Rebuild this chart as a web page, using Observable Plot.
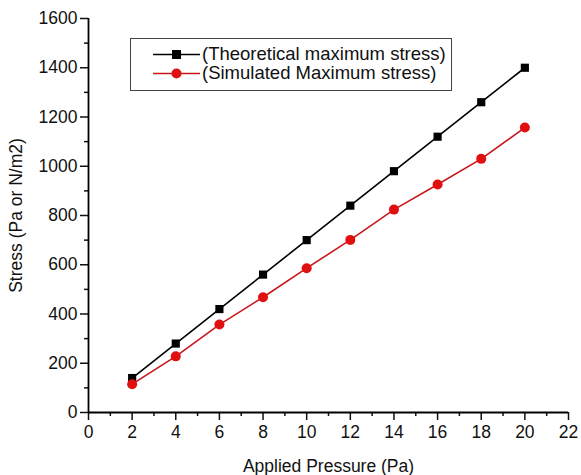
<!DOCTYPE html>
<html>
<head>
<meta charset="utf-8">
<script src="https://cdn.jsdelivr.net/npm/d3@7"></script>
<script src="https://cdn.jsdelivr.net/npm/@observablehq/plot@0.6"></script>
<style>
  body { margin: 0; background: #fff; }
  #wrap { position: relative; width: 581px; height: 475px; font-family: "Liberation Sans", Arial, sans-serif; }
  #legend { position: absolute; left: 130px; top: 38px; width: 322px; height: 53px; border: 1px solid #444; box-sizing: border-box; background: #fff; }
  .row { position: absolute; left: 22px; height: 20px; display: flex; align-items: center; font-size: 18.5px; color: #111; white-space: nowrap; }
  .row svg { margin-right: 2px; }
</style>
</head>
<body>
<div id="wrap"></div>
<script>
const pressure = [2, 4, 6, 8, 10, 12, 14, 16, 18, 20];
const theoretical = [140, 280, 420, 560, 700, 840, 980, 1120, 1260, 1400];
const simulated = [115, 228, 357, 468, 586, 701, 824, 926, 1030, 1157];
const seriesNames = ["(Theoretical maximum stress)", "(Simulated Maximum stress)"];
const xTicks = d3.range(0, 23, 2);
const xMinor = d3.range(1, 22, 2);
const yTicks = d3.range(0, 1601, 200);
const yMinor = d3.range(100, 1600, 200);

const theo = pressure.map((x, i) => ({x, y: theoretical[i]}));
const sim = pressure.map((x, i) => ({x, y: simulated[i]}));

const blackC = "#000";
const redLine = "#c8161b";
const redDot = "#e01010";

const chart = Plot.plot({
  width: 581,
  height: 475,
  marginLeft: 88,
  marginRight: 13,
  marginTop: 18,
  marginBottom: 63,
  style: {fontFamily: "Liberation Sans, Arial, sans-serif", color: "#111", background: "#fff"},
  x: {domain: [0, 22]},
  y: {domain: [0, 1600]},
  marks: [
    Plot.axisX({ticks: xTicks, tickFormat: d => String(d), tickSize: 8, tickPadding: 5, fontSize: 17.5, strokeWidth: 1.5, label: "Applied Pressure (Pa)", labelAnchor: "center", labelArrow: "none", labelOffset: 59}),
    Plot.axisX({ticks: xMinor, tickSize: 4, text: null, strokeWidth: 1.5, label: null}),
    Plot.axisY({ticks: yTicks, tickFormat: d => String(d), tickSize: 8, tickPadding: 3, fontSize: 17.5, strokeWidth: 1.5, label: "Stress (Pa or N/m2)", labelAnchor: "center", labelArrow: "none", labelOffset: 79}),
    Plot.axisY({ticks: yMinor, tickSize: 4, text: null, strokeWidth: 1.5, label: null}),
    Plot.ruleY([0], {stroke: "#000", strokeWidth: 1.8}),
    Plot.ruleX([0], {stroke: "#000", strokeWidth: 1.8}),
    Plot.line(theo, {x: "x", y: "y", stroke: blackC, strokeWidth: 1.6}),
    Plot.dot(theo, {x: "x", y: "y", symbol: "square", r: 4.6, fill: blackC, stroke: "none"}),
    Plot.line(sim, {x: "x", y: "y", stroke: redLine, strokeWidth: 1.6}),
    Plot.dot(sim, {x: "x", y: "y", symbol: "circle", r: 5, fill: redDot, stroke: "none"})
  ]
});
const wrap = document.getElementById("wrap");
wrap.appendChild(chart);

const legend = document.createElement("div");
legend.id = "legend";
const rows = [
  {name: seriesNames[0], line: blackC, fill: blackC, sym: "square", top: 5},
  {name: seriesNames[1], line: redLine, fill: redDot, sym: "circle", top: 24}
];
rows.forEach(r => {
  const d = document.createElement("div");
  d.className = "row";
  d.style.top = r.top + "px";
  const mk = r.sym === "square"
    ? `<rect x="19" y="6" width="9" height="9" fill="${r.fill}"/>`
    : `<circle cx="23.5" cy="10.5" r="5" fill="${r.fill}"/>`;
  d.innerHTML = `<svg width="47" height="21"><line x1="0" x2="47" y1="10.5" y2="10.5" stroke="${r.line}" stroke-width="1.6"/>${mk}</svg><span>${r.name}</span>`;
  legend.appendChild(d);
});
wrap.appendChild(legend);
</script>
</body>
</html>
